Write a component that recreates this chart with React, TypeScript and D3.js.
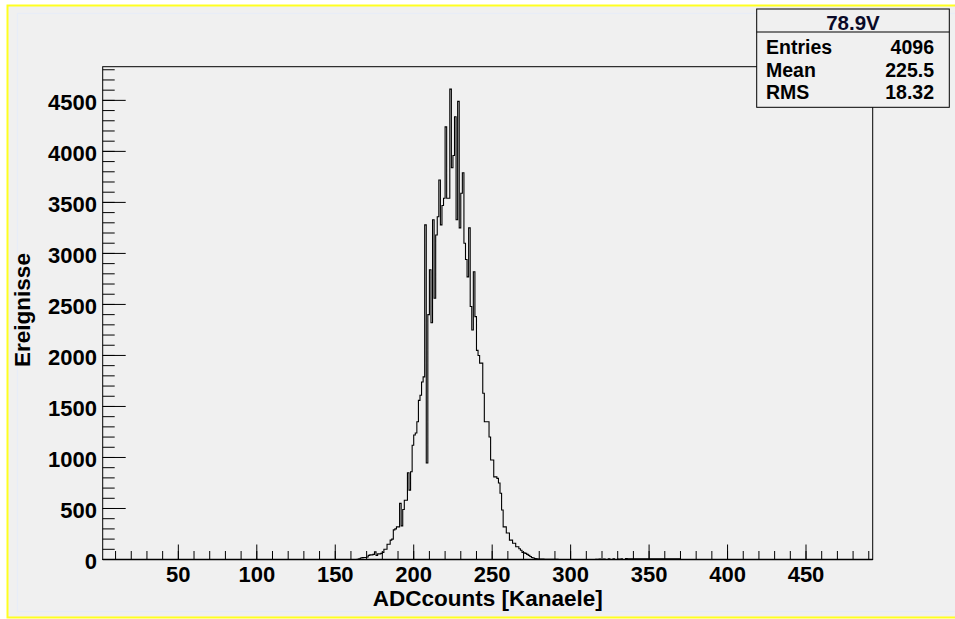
import React from "react";
import * as d3 from "d3";

const histTitle = "78.9V";
const xTitle = "ADCcounts [Kanaele]";
const yTitle = "Ereignisse";
const statLabels = ["Entries", "Mean", "RMS"];
const statValues = ["4096", "225.5", "18.32"];
const xMajorTicks = [50, 100, 150, 200, 250, 300, 350, 400, 450];
const xMinorTicks = d3.range(10, 491, 10);
const yMajorTicks = [0, 500, 1000, 1500, 2000, 2500, 3000, 3500, 4000, 4500];
const yMinorTicks = d3.range(100, 4801, 100);
const xRange = [1.8, 492.5];
const yMax = 4830;

// one-channel bins, starting at channel 164
const firstBin = 164;
const counts = [
  3, 8, 15, 18, 20, 20, 25, 40, 45, 45, 50, 75, 40, 55, 55, 60,
  70, 100, 100, 150, 150, 190, 200, 290, 300, 320,
  320, 550, 330, 490, 580, 580, 850, 680, 860, 1120,
  1220, 1240, 1350, 1560, 1610, 1740, 1790, 3280, 946, 2400,
  2840, 2320, 3330, 2560, 3180, 3360, 3720, 3280, 3470, 3540,
  4240, 3540, 3540, 4610, 3840, 3960, 4340, 3330, 4490, 3250,
  3590, 3790, 3100, 2940, 2770, 3250, 2480, 2250, 2820, 2380,
  2050, 2000, 1925, 1925, 1630, 1350, 1350, 1350, 1200, 975,
  975, 810, 810, 795, 750, 650, 485, 320, 320, 260,
  260, 190, 190, 160, 160, 125, 125, 105, 90, 70,
  65, 60, 50, 40, 30, 20, 15, 10, 8, 5,
  5, 4, 4, 3, 3, 2, 2, 2, 1, 1,
  1, 1, 0, 0, 0, 0, 0, 0, 0, 0,
  0, 0, 0, 0, 0, 0, 0, 0, 0, 0,
  0, 0, 0, 0, 0, 0, 3, 0, 5, 0,
  0, 4, 0, 0, 6, 0, 0, 8, 0, 0,
  5, 0, 6, 0, 0, 10, 6, 6, 6, 6,
  6, 6, 6, 6, 6, 6, 6, 6, 6, 6,
  6, 6, 6, 6, 6, 6, 6, 6, 6, 6,
  6, 6, 6, 6, 6, 6, 6, 6, 6, 6,
  0,
];

const FONT = "'Liberation Sans', Arial, Helvetica, sans-serif";
const W = 955;
const H = 619;
const frame = { left: 102.7, right: 872.7, top: 66.7, bottom: 559.5 };

export default function App() {
  const x = d3.scaleLinear().domain(xRange).range([frame.left, frame.right]);
  const y = d3.scaleLinear().domain([0, yMax]).range([frame.bottom, frame.top]);

  const pts: [number, number][] = [[xRange[0], 0]];
  counts.forEach((c, i) => pts.push([firstBin + i, c]));
  pts.push([firstBin + counts.length, 0]);
  pts.push([xRange[1], 0]);
  const line = d3
    .line<[number, number]>()
    .x((d) => x(d[0]))
    .y((d) => y(d[1]))
    .curve(d3.curveStepAfter);

  const box = { left: 756.7, right: 949.3, top: 9, bottom: 107.3, sep: 32 };
  const rowBase = [54, 76.7, 99];

  return (
    <svg
      width={W}
      height={H}
      style={{ position: "absolute", left: 0, top: 0, background: "#ffffff" }}
      fontFamily={FONT}
      fontWeight="bold"
    >
      <rect x={7.5} y={5.5} width={960} height={612} fill="#f0f0f0" stroke="#ffff20" strokeWidth={2} />
      <rect x={17.5} y={13.5} width={960} height={598} fill="none" stroke="#e8edf7" strokeWidth={1.2} />

      {/* frame */}
      <rect
        x={frame.left}
        y={frame.top}
        width={frame.right - frame.left}
        height={frame.bottom - frame.top}
        fill="#f0f0f0"
        stroke="#000"
        strokeWidth={1}
      />

      {/* histogram */}
      <path d={line(pts) || ""} fill="none" stroke="#000" strokeWidth={1.1} />

      {/* axis ticks */}
      <g stroke="#000" strokeWidth={1}>
        {xMinorTicks.map((t) => (
          <line key={"xm" + t} x1={x(t)} x2={x(t)} y1={frame.bottom} y2={frame.bottom - 8.5} />
        ))}
        {xMajorTicks.map((t) => (
          <line key={"xM" + t} x1={x(t)} x2={x(t)} y1={frame.bottom} y2={frame.bottom - 15} />
        ))}
        {yMinorTicks.map((t) => (
          <line key={"ym" + t} x1={frame.left} x2={frame.left + 12} y1={y(t)} y2={y(t)} />
        ))}
        {yMajorTicks.map((t) => (
          <line key={"yM" + t} x1={frame.left} x2={frame.left + 23} y1={y(t)} y2={y(t)} />
        ))}
      </g>
      <line x1={frame.left} x2={frame.right} y1={frame.bottom} y2={frame.bottom} stroke="#000" strokeWidth={1.5} />

      {/* tick labels */}
      <g fontSize={22} fill="#000">
        {xMajorTicks.map((t) => (
          <text key={"xl" + t} x={x(t)} y={582} textAnchor="middle">
            {t}
          </text>
        ))}
        {yMajorTicks.map((t) => (
          <text key={"yl" + t} x={97} y={y(t) + 9.8} textAnchor="end">
            {t}
          </text>
        ))}
      </g>

      {/* axis titles */}
      <text x={(frame.left + frame.right) / 2} y={606} textAnchor="middle" fontSize={22.5}>
        {xTitle}
      </text>
      <text
        transform={`translate(29.5,${310}) rotate(-90)`}
        textAnchor="middle"
        fontSize={22.5}
      >
        {yTitle}
      </text>

      {/* stats box */}
      <rect
        x={box.left}
        y={box.top}
        width={box.right - box.left}
        height={box.bottom - box.top}
        fill="#f0f0f0"
        stroke="#000"
        strokeWidth={1}
      />
      <line x1={box.left} x2={box.right} y1={box.sep} y2={box.sep} stroke="#000" strokeWidth={1} />
      <text x={(box.left + box.right) / 2} y={30} textAnchor="middle" fontSize={20.5} fill="#0a0a28">
        {histTitle}
      </text>
      {statLabels.map((l, i) => (
        <g key={l} fontSize={19.5}>
          <text x={766} y={rowBase[i]}>
            {l}
          </text>
          <text x={934} y={rowBase[i]} textAnchor="end">
            {statValues[i]}
          </text>
        </g>
      ))}
    </svg>
  );
}
